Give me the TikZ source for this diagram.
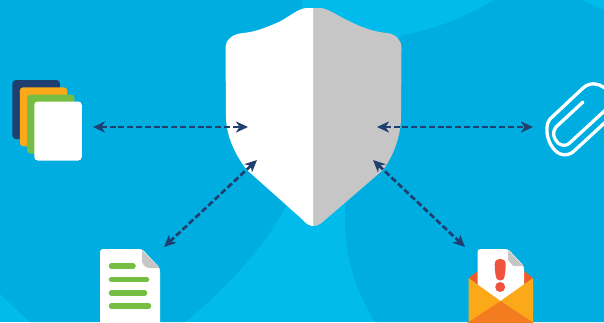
\documentclass[tikz,border=0pt]{standalone}
\usetikzlibrary{arrows.meta, positioning, calc}

\definecolor{bgDark}{HTML}{00ADE0}
\definecolor{bgLight}{HTML}{00BBEB}
\definecolor{navy}{HTML}{1F3F70}
\definecolor{amber}{HTML}{FBA919}
\definecolor{leaf}{HTML}{76BE43}
\definecolor{flapOrange}{HTML}{F47C20}
\definecolor{flapRed}{HTML}{F15A29}
\definecolor{alert}{HTML}{EF5340}
\definecolor{foldGray}{HTML}{C6C6C6}

\begin{document}
\begin{tikzpicture}[
  x=1pt, y=-1pt,
  sheet/.style={rectangle, rounded corners=3.5pt, fill=#1, inner sep=0pt,
                minimum width=47.5pt, minimum height=59pt},
  bar/.style={line width=5.5pt, leaf, line cap=round},
  link/.style={navy, line width=2.7pt, dash pattern=on 6pt off 2.8pt,
               {Stealth[length=12pt, width=11pt, inset=3.5pt]}-{Stealth[length=12pt, width=11pt, inset=3.5pt]}},
  wire/.style={white, line width=3.3pt, line cap=round, line join=round},
]
\clip (0,0) rectangle (604,322);

% ---- Background ----
\fill[bgLight] (0,0) rectangle (604,322);
\fill[bgDark] (0,0) -- (302,0) -- (302,150) -- (285,208)
  .. controls (265,245) and (230,285) .. (185,322)
  -- (30,322) -- (0,294) -- cycle;
\fill[bgDark] (494,0) -- (582,0) -- (604,10) -- (604,322) -- (375,322)
  .. controls (358,295) and (345,260) .. (345,222)
  -- (345,100) -- (402,35) .. controls (435,30) and (470,15) .. (494,0) -- cycle;

% ---- Shield ----
\fill[white] (313.5,8) -- (306,8) .. controls (298,9) and (290,16) .. (280,21.5)
  .. controls (265,28) and (255,32) .. (243,33)
  .. controls (232,34) and (225.5,40) .. (225.5,48)
  -- (226,117) .. controls (226,135) and (235,155) .. (247,170)
  -- (303,220) .. controls (306,224) and (310,226) .. (313.5,226) -- cycle;
\fill[foldGray] (313.5,8) -- (321,8) .. controls (329,9) and (338,16) .. (350,21.5)
  .. controls (363,28) and (375,32) .. (387,33)
  .. controls (396,34) and (401.5,40) .. (401.5,48)
  -- (401,117) .. controls (401,135) and (394,155) .. (383,170)
  -- (325,220) .. controls (321,224) and (317,226) .. (313.5,226) -- cycle;

% ---- Stack of sheets ----
\node[sheet=navy] (s1) at (36.2,109.5) {};
\node[sheet=amber] (s2) at (43.5,116.8) {};
\node[sheet=leaf] (s3) at (50.8,124) {};
\node[sheet=white] (s4) at (58,131) {};

% ---- Document ----
\fill[white, rounded corners=3pt] (100,335) -- (100,249) -- (142,249) -- (160,268) -- (160,335) -- cycle;
\fill[foldGray, rounded corners=1.5pt] (142,250) -- (160,268) -- (147,268) -- (142,263) -- cycle;
\draw[bar] (111.5,266) -- (133,266);
\draw[bar] (111.5,279.5) -- (146.5,279.5);
\draw[bar] (111.5,293) -- (144.5,293);
\draw[bar] (111.5,306) -- (148.5,306);

% ---- Envelope ----
\fill[flapRed] (468.5,278) -- (478,271) -- (524,271) -- (533,278) -- (500.5,301) -- cycle;
\fill[white, rounded corners=3pt] (477.5,290) -- (477.5,249) -- (508,249) -- (524,266) -- (524,290) -- (500.5,310) -- cycle;
\fill[foldGray, rounded corners=1pt] (508,250) -- (523.5,266) -- (513,266) -- (508,260) -- cycle;
\fill[amber] (468.5,278) -- (500.5,301) -- (533,278) -- (533,335) -- (468.5,335) -- cycle;
\fill[flapOrange] (500.5,301) -- (552,335) -- (449,335) -- cycle;
\fill[alert] (494.7,264) .. controls (494.7,257) and (505.7,257) .. (505.7,264)
  .. controls (505.7,270) and (505,275) .. (504,278.5)
  .. controls (503,281) and (497.5,281) .. (496.5,278.5)
  .. controls (495.4,275) and (494.7,270) .. (494.7,264) -- cycle;
\fill[alert] (500.2,287) circle (5pt);

% ---- Paper clip ----
\draw[wire] (612,92) -- (604,87.5) .. controls (598,83) and (590,82) .. (583,88)
  -- (550,119) .. controls (545,125) and (546,139) .. (553,148)
  .. controls (558,155) and (566,157) .. (573,152) -- (612,116);
\draw[wire] (583,102) -- (556,127) .. controls (552,132) and (553,138) .. (558,143)
  .. controls (562,146) and (566,146) .. (569,143.5) -- (612,104);

% ---- Connectors ----
\coordinate (cardEnd) at (93,127);
\coordinate (shieldL) at (248,127);
\coordinate (shieldR) at (377,127);
\coordinate (clipEnd) at (533,127);
\coordinate (docEnd) at (164,247);
\coordinate (shieldSW) at (257,160);
\coordinate (shieldSE) at (373,160);
\coordinate (mailEnd) at (465,247);

\draw[link] (cardEnd) -- (shieldL);
\draw[link] (shieldR) -- (clipEnd);
\draw[link] (docEnd) -- (shieldSW);
\draw[link] (shieldSE) -- (mailEnd);

\end{tikzpicture}
\end{document}
